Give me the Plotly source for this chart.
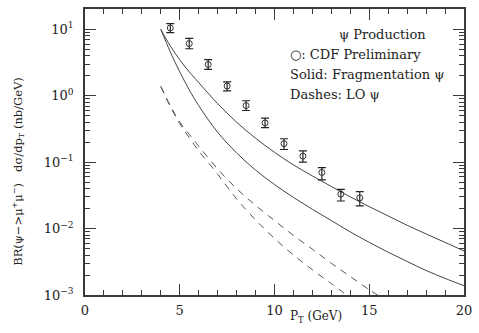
import plotly.graph_objects as go

# CDF preliminary data points
data_pt = [4.5, 5.5, 6.5, 7.5, 8.5, 9.5, 10.5, 11.5, 12.5, 13.5, 14.5]
data_y = [10.5, 6.1, 2.95, 1.40, 0.71, 0.39, 0.19, 0.123, 0.070, 0.033, 0.029]
data_err_hi = [1.7, 1.2, 0.55, 0.22, 0.13, 0.07, 0.035, 0.025, 0.013, 0.006, 0.007]
data_err_lo = [1.6, 1.0, 0.45, 0.22, 0.11, 0.06, 0.035, 0.023, 0.016, 0.007, 0.007]

# theory curves
curve_pt = [4, 4.5, 5, 5.5, 6, 7, 8, 9, 10, 11, 12, 13, 14, 15, 16, 17, 18, 19, 20]
frag_upper = [10.0, 5.62, 3.47, 2.29, 1.58, 0.76, 0.40, 0.229, 0.141, 0.091, 0.062,
              0.043, 0.030, 0.0214, 0.0155, 0.0112, 0.0083, 0.0062, 0.0046]
frag_lower = [10.0, 4.57, 2.29, 1.23, 0.71, 0.282, 0.138, 0.076, 0.046, 0.0295, 0.0195,
              0.0132, 0.0089, 0.0062, 0.0044, 0.0032, 0.00234, 0.00178, 0.00138]

lo_pt_a = [4, 4.5, 5, 5.5, 6, 7, 8, 9, 10, 11, 12, 13, 14]
lo_a = [1.38, 0.69, 0.38, 0.234, 0.148, 0.066, 0.028, 0.0135, 0.0071, 0.0040, 0.0024, 0.00148, 0.00091]
lo_pt_b = [4, 4.5, 5, 5.5, 6, 7, 8, 9, 10, 11, 12, 13, 14, 15, 16]
lo_b = [1.38, 0.71, 0.40, 0.263, 0.174, 0.079, 0.040, 0.0224, 0.0132, 0.0079, 0.0049, 0.0030, 0.0019, 0.0012, 0.00079]

y_tickvals = [1e-3, 1e-2, 1e-1, 1, 10]
y_ticktext = ["10<sup>\u22123</sup>", "10<sup>\u22122</sup>", "10<sup>\u22121</sup>",
              "10<sup>0</sup>", "10<sup>1</sup>"]
y_minor = [m * 10.0 ** e for e in range(-3, 2) for m in range(2, 10)]
x_tickvals = [0, 5, 10, 15, 20]
x_minor = list(range(1, 20))

X_RANGE = [0, 20]
Y_RANGE = [-3, 1.306]

FONT = "DejaVu Serif"
INK = "#3a3a3a"
TXT = "#222222"

L, R, T, B = 85, 10, 7, 38
W, H = 479, 333
PW, PH = W - L - R, H - T - B


def px_to_paper(px, py):
    return (px - L) / PW, (H - B - py) / PH


fig = go.Figure()
for xs, ys in [(curve_pt, frag_upper), (curve_pt, frag_lower)]:
    fig.add_trace(go.Scatter(x=xs, y=ys, mode="lines", line=dict(color="#444444", width=1, shape="spline"),
                             showlegend=False, hoverinfo="skip"))
for xs, ys in [(lo_pt_a, lo_a), (lo_pt_b, lo_b)]:
    fig.add_trace(go.Scatter(x=xs, y=ys, mode="lines",
                             line=dict(color="#555555", width=1, dash="7px,6px", shape="spline"),
                             showlegend=False, hoverinfo="skip"))
fig.add_trace(go.Scatter(
    x=data_pt, y=data_y, mode="markers",
    marker=dict(symbol="circle-open", size=6, color="#333333", line=dict(width=1)),
    error_y=dict(type="data", symmetric=False, array=data_err_hi, arrayminus=data_err_lo,
                 color="#222222", thickness=1.2, width=4),
    showlegend=False))

fig.update_xaxes(range=X_RANGE, tickmode="array", tickvals=x_tickvals, ticks="inside", ticklen=11,
                 tickwidth=1, tickcolor=INK, showline=True, linecolor=INK, linewidth=1.5, mirror="allticks",
                 showgrid=False, zeroline=False, ticklabelstandoff=3,
                 minor=dict(ticks="inside", tickmode="array", tickvals=x_minor, ticklen=5, tickwidth=1,
                            tickcolor=INK, showgrid=False),
                 tickfont=dict(family=FONT, size=13, color=TXT))
fig.update_yaxes(type="log", range=Y_RANGE, tickmode="array", tickvals=y_tickvals, ticktext=y_ticktext,
                 ticks="inside", ticklen=11, tickwidth=1, tickcolor=INK, ticklabelstandoff=7,
                 showline=True, linecolor=INK, linewidth=1.5, mirror="allticks", showgrid=False, zeroline=False,
                 minor=dict(ticks="inside", tickmode="array", tickvals=y_minor, ticklen=5, tickwidth=1,
                            tickcolor=INK, showgrid=False),
                 tickfont=dict(family=FONT, size=13, color=TXT))

ax_, ay_ = px_to_paper(291, 317)
fig.add_annotation(x=ax_, y=ay_, xref="paper", yref="paper",
                   text="P<sub>T</sub> (GeV)", showarrow=False, xanchor="left", yanchor="middle",
                   font=dict(family=FONT, size=12, color=TXT))
ax_, ay_ = px_to_paper(17, 170)
fig.add_annotation(x=ax_, y=ay_, xref="paper", yref="paper", textangle=-90,
                   text="BR(\u03c8\u2212>\u03bc<sup>+</sup>\u03bc<sup>\u2212</sup>)   d\u03c3/dp<sub>T</sub> (nb/GeV)",
                   showarrow=False, xanchor="center", yanchor="middle",
                   font=dict(family=FONT, size=11.5, color=TXT))

notes = [
    (340, 33, "\u03c8 Production"),
    (291, 53, "\u25cb: CDF Preliminary"),
    (291, 73, "Solid: Fragmentation \u03c8"),
    (291, 93, "Dashes: LO \u03c8"),
]
for px, py, t in notes:
    ax_, ay_ = px_to_paper(px, py)
    fig.add_annotation(x=ax_, y=ay_, xref="paper", yref="paper",
                       text=t, showarrow=False, xanchor="left", yanchor="middle",
                       font=dict(family=FONT, size=13, color=TXT))

fig.update_layout(width=W, height=H, margin=dict(l=L, r=R, t=T, b=B),
                  paper_bgcolor="white", plot_bgcolor="white")
fig.write_html("out.html")
